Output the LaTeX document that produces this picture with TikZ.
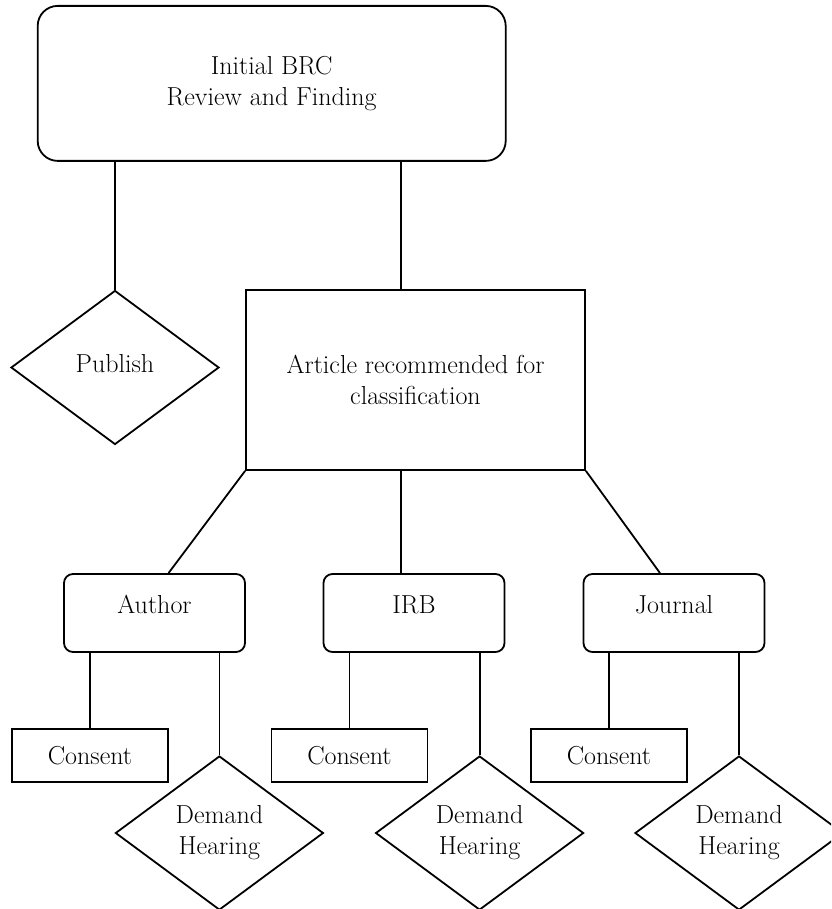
\documentclass[tikz,border=0pt]{standalone}
\usetikzlibrary{shapes.geometric,calc}
\begin{document}
\begin{tikzpicture}[x=1pt,y=-1pt,
  every node/.style={font=\fontsize{26}{31}\selectfont, line width=1.8pt, draw=black},
  bigbox/.style={rounded corners=20pt, minimum width=468pt, minimum height=155pt, align=center, inner sep=0pt},
  artbox/.style={minimum width=339pt, minimum height=180pt, align=center, inner sep=0pt},
  partybox/.style={rounded corners=9pt, minimum width=181pt, minimum height=78pt, inner sep=0pt, text height=18pt, text depth=18pt},
  consentbox/.style={minimum width=156pt, minimum height=53pt, inner sep=0pt},
  choice/.style={diamond, aspect=1.35, minimum width=208pt, minimum height=154pt, inner sep=0pt, align=center},
  link/.style={line width=1.8pt}]
\clip (0,0) rectangle (831,909);
\node[bigbox] (top) at (271.7,83.4) {Initial BRC\\Review and Finding};
\node[choice, text depth=9pt] (pub) at (115,367.5) {Publish};
\node[artbox] (art) at (415.5,380) {Article recommended for\\classification};
\node[partybox] (author) at (154.5,613) {Author};
\node[partybox] (irb) at (414,613) {IRB};
\node[partybox] (journal) at (674,613) {Journal};
\node[consentbox] (con1) at (90,755.5) {Consent};
\node[consentbox] (con2) at (349.5,755.5) {Consent};
\node[consentbox] (con3) at (609,755.5) {Consent};
\node[choice] (dem1) at (219.4,833) {Demand\\Hearing};
\node[choice] (dem2) at (479.6,833) {Demand\\Hearing};
\node[choice] (dem3) at (739,833) {Demand\\Hearing};
% connectors
\draw[link] (top.south -| pub.north) -- (pub.north);
\draw[link] ([xshift=-14.5pt]art.north |- top.south) -- ([xshift=-14.5pt]art.north);
\draw[link] (art.south west) -- ([xshift=14pt]author.north);
\draw[link] ([xshift=-14.5pt]art.south) -- ([xshift=-13pt]irb.north);
\draw[link] (art.south east) -- ([xshift=-14pt]journal.north);
\draw[link] (author.south -| con1.north) -- (con1.north);
\draw[link] (author.south -| dem1.north) -- (dem1.north);
\draw[link] (irb.south -| con2.north) -- (con2.north);
\draw[link] (irb.south -| dem2.north) -- (dem2.north);
\draw[link] (journal.south -| con3.north) -- (con3.north);
\draw[link] (journal.south -| dem3.north) -- (dem3.north);
\end{tikzpicture}
\end{document}
